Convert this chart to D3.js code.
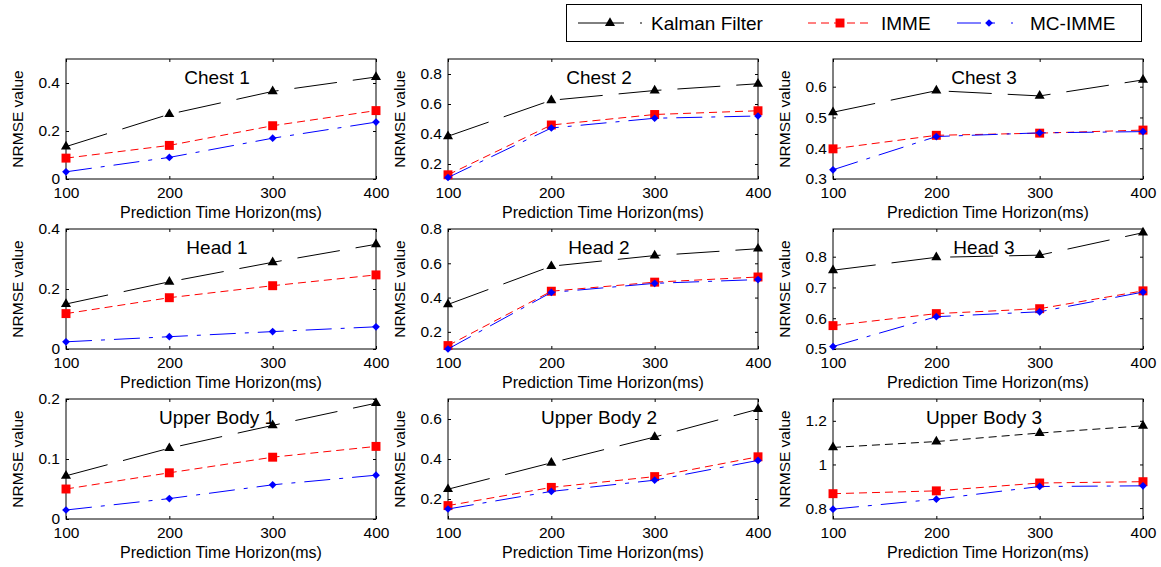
<!DOCTYPE html>
<html>
<head>
<meta charset="utf-8">
<script src="https://cdn.jsdelivr.net/npm/d3@7"></script>
<style>
  body { margin: 0; background: #fff; }
  text { font-family: "Liberation Sans", Arial, sans-serif; fill: #000; }
</style>
</head>
<body>
<div id="chart"></div>
<script>
'use strict';

// prediction horizons (ms), shared x values
var horizons = [100, 200, 300, 400];

var panelTitles = ['Chest 1', 'Chest 2', 'Chest 3',
                   'Head 1', 'Head 2', 'Head 3',
                   'Upper Body 1', 'Upper Body 2', 'Upper Body 3'];

// NRMSE per panel, one row per panel
var kalman = [
  [0.135, 0.27, 0.365, 0.425],
  [0.385, 0.625, 0.69, 0.735],
  [0.517, 0.587, 0.57, 0.622],
  [0.15, 0.224, 0.289, 0.349],
  [0.36, 0.583, 0.645, 0.685],
  [0.756, 0.798, 0.805, 0.878],
  [0.072, 0.118, 0.156, 0.193],
  [0.249, 0.381, 0.51, 0.649],
  [1.078, 1.105, 1.144, 1.177]
];

var imme = [
  [0.087, 0.14, 0.222, 0.285],
  [0.128, 0.46, 0.53, 0.555],
  [0.398, 0.442, 0.449, 0.459],
  [0.118, 0.171, 0.211, 0.247],
  [0.12, 0.437, 0.49, 0.52],
  [0.576, 0.615, 0.631, 0.689],
  [0.05, 0.077, 0.103, 0.121],
  [0.167, 0.258, 0.312, 0.411],
  [0.866, 0.879, 0.915, 0.921]
];

var mcImme = [
  [0.03, 0.09, 0.17, 0.237],
  [0.11, 0.44, 0.505, 0.52],
  [0.33, 0.438, 0.45, 0.454],
  [0.024, 0.041, 0.058, 0.074],
  [0.1, 0.43, 0.483, 0.505],
  [0.508, 0.605, 0.621, 0.685],
  [0.015, 0.034, 0.057, 0.073],
  [0.15, 0.238, 0.294, 0.393],
  [0.795, 0.841, 0.899, 0.902]
];

// y axis limits and tick labels per panel
var yDomains = [
  [0, 0.5], [0.1, 0.9], [0.3, 0.69],
  [0, 0.4], [0.1, 0.8], [0.5, 0.89],
  [0, 0.2], [0.1, 0.7], [0.75, 1.3]
];

var yTicks = [
  [0, 0.2, 0.4], [0.2, 0.4, 0.6, 0.8], [0.3, 0.4, 0.5, 0.6],
  [0, 0.2, 0.4], [0.2, 0.4, 0.6, 0.8], [0.5, 0.6, 0.7, 0.8],
  [0, 0.1, 0.2], [0.2, 0.4, 0.6], [0.8, 1, 1.2]
];

var seriesNames = ['Kalman Filter', 'IMME', 'MC-IMME'];

var width = 1161, height = 567;
var colX = [66, 448, 833], rowY = [59, 229, 399];
var pw = 310, ph = 120;

var svg = d3.select('#chart').append('svg')
    .attr('width', width)
    .attr('height', height);

var fmt = d3.format('~g');

// matlab-ish line specs; the dot of '-.' barely shows at this size
function styleFor(k, panel) {
  if (k === 0) return {color: '#000', dash: panel === 8 ? '8,5' : '43,16', legendDash: '46,16,2,8', sym: 'tri'};
  if (k === 1) return {color: '#ff0000', dash: '8,5', legendDash: '8,5', sym: 'sq'};
  return {color: '#0000ff', dash: '26,9,4,9', legendDash: '24,8,6,16,2', sym: 'dia'};
}

function marker(sel, st) {
  if (st.sym === 'tri') {
    sel.attr('d', d3.symbol(d3.symbolTriangle, 44)());
  } else if (st.sym === 'sq') {
    sel.attr('d', d3.symbol(d3.symbolSquare, 80)());
  } else {
    sel.attr('d', d3.symbol(d3.symbolSquare, 30)());
  }
}

panelTitles.forEach(function(title, i){
  var g = svg.append('g')
      .attr('transform', 'translate(' + colX[i % 3] + ',' + rowY[Math.floor(i / 3)] + ')');

  var x = d3.scaleLinear().domain([100, 400]).range([0, pw]);
  var y = d3.scaleLinear().domain(yDomains[i]).range([ph, 0]);

  // axes, ticks pointing inwards like matlab
  g.append('g')
      .attr('transform', 'translate(0,' + ph + ')')
      .call(d3.axisBottom(x).tickValues(horizons).tickSizeInner(-3).tickSizeOuter(0).tickPadding(8));
  g.append('g')
      .call(d3.axisTop(x).tickValues(horizons).tickSizeInner(-3).tickSizeOuter(0).tickFormat(''));
  g.append('g')
      .call(d3.axisLeft(y).tickValues(yTicks[i]).tickFormat(fmt).tickSizeInner(-3).tickSizeOuter(0).tickPadding(6));
  g.append('g')
      .attr('transform', 'translate(' + pw + ',0)')
      .call(d3.axisRight(y).tickValues(yTicks[i]).tickSizeInner(-3).tickSizeOuter(0).tickFormat(''));

  g.selectAll('.domain').remove();
  g.selectAll('.tick line').attr('stroke', '#000');
  g.selectAll('.tick text').attr('font-size', '15.5px').attr('fill', '#000')
      .style('font-family', '"Liberation Sans", Arial, sans-serif');

  g.append('rect')
      .attr('x', 0).attr('y', 0)
      .attr('width', pw).attr('height', ph)
      .attr('fill', 'none')
      .attr('stroke', '#000')
      .attr('stroke-width', 1);

  var line = d3.line()
      .x(function(d, j){ return x(horizons[j]); })
      .y(function(d){ return y(d); });

  [kalman[i], imme[i], mcImme[i]].forEach(function(vals, k){
    var st = styleFor(k, i);
    g.append('path')
        .datum(vals)
        .attr('d', line)
        .attr('fill', 'none')
        .attr('stroke', st.color)
        .attr('stroke-width', 1)
        .attr('stroke-dasharray', st.dash);
    g.selectAll('.m' + k)
        .data(vals)
      .enter().append('path')
        .attr('class', 'm' + k)
        .call(marker, st)
        .attr('transform', function(d, j){
          return 'translate(' + x(horizons[j]) + ',' + y(d) + ')' + (st.sym === 'dia' ? ' rotate(45)' : '');
        })
        .attr('fill', st.color);
  });

  g.append('text')
      .attr('x', pw / 2 - 4)
      .attr('y', 25)
      .attr('text-anchor', 'middle')
      .attr('font-size', '19px')
      .text(title);

  g.append('text')
      .attr('x', pw / 2)
      .attr('y', ph + 39)
      .attr('text-anchor', 'middle')
      .attr('font-size', '16px')
      .text('Prediction Time Horizon(ms)');

  g.append('text')
      .attr('transform', 'translate(-43,' + (ph / 2) + ') rotate(-90)')
      .attr('text-anchor', 'middle')
      .attr('font-size', '15.5px')
      .text('NRMSE value');
});

// legend
var legend = svg.append('g');
legend.append('rect')
    .attr('x', 566.5).attr('y', 4.5)
    .attr('width', 575).attr('height', 37)
    .attr('fill', '#fff')
    .attr('stroke', '#000');

var legendX = [578, 808, 957];
seriesNames.forEach(function(name, k){
  var st = styleFor(k, 0);
  var lx = legendX[k];
  legend.append('line')
      .attr('x1', lx).attr('x2', lx + 64)
      .attr('y1', 23).attr('y2', 23)
      .attr('stroke', st.color)
      .attr('stroke-dasharray', st.legendDash);
  legend.append('path')
      .call(marker, st)
      .attr('transform', 'translate(' + (lx + 32) + ',23)' + (st.sym === 'dia' ? ' rotate(45)' : ''))
      .attr('fill', st.color);
  legend.append('text')
      .attr('x', lx + 73)
      .attr('y', 30)
      .attr('font-size', '19px')
      .text(name);
});
</script>
</body>
</html>
